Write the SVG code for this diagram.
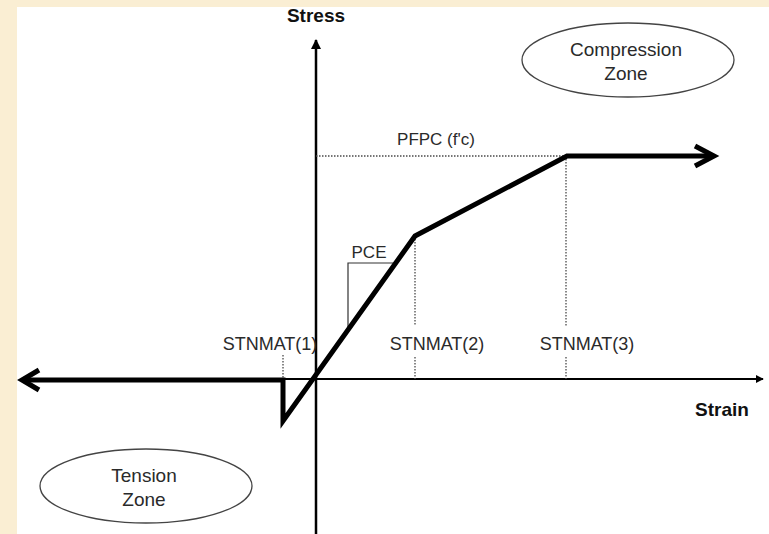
<svg xmlns="http://www.w3.org/2000/svg" width="769" height="534" viewBox="0 0 769 534">
<defs>
<style>
.lbl{font-family:"Liberation Sans",Arial,sans-serif;font-size:18px;fill:#2a2a2a}
.ttl{font-family:"Liberation Sans",Arial,sans-serif;font-size:19px;font-weight:bold;fill:#111}
.dot{stroke:#4a4a4a;stroke-width:1.3;stroke-dasharray:1.5 1.5;fill:none}
.thin{stroke:#333;stroke-width:1.2;fill:none}
.axis{stroke:#000;stroke-width:2.5;fill:none}
.curve{stroke:#000;stroke-width:5;fill:none;stroke-linejoin:miter}
.zone{stroke:#444;stroke-width:1.3;fill:none}
</style>
<marker id="tri" viewBox="0 0 10 10" refX="9" refY="5" markerWidth="4" markerHeight="4" orient="auto" markerUnits="strokeWidth">
<path d="M0,0 L10,5 L0,10 z" fill="#000"/>
</marker>
</defs>
<rect x="0" y="0" width="769" height="534" fill="#FAEED3"/>
<rect x="17" y="7" width="752" height="527" fill="#fff"/>

<g id="connectors">
<line class="axis" x1="316" y1="534" x2="316" y2="40" marker-end="url(#tri)"/>
<line class="axis" x1="283" y1="379" x2="763" y2="379" marker-end="url(#tri)" style="stroke-width:2"/>
<line class="dot" x1="316" y1="156" x2="566" y2="156"/>
<line class="dot" x1="566" y1="156" x2="566" y2="326"/>
<line class="dot" x1="566" y1="357" x2="566" y2="379"/>
<line class="dot" x1="415" y1="236" x2="415" y2="326"/>
<line class="dot" x1="415" y1="357" x2="415" y2="379"/>
<line class="dot" x1="283" y1="355" x2="283" y2="379"/>
<polyline class="thin" points="348,328 348,263 393,263"/>
<polyline class="curve" points="22,380 283,380 283,421 415,236 567,156 711,156"/>
<polyline class="curve" points="39,370 22,380 39,390"/>
<polyline class="curve" points="695,146 714,156 695,166"/>
</g>

<g id="stress-label"><text class="ttl" x="316" y="22" text-anchor="middle">Stress</text></g>
<g id="strain-label"><text class="ttl" x="722" y="416" text-anchor="middle">Strain</text></g>
<g id="compression-zone">
<ellipse class="zone" cx="628" cy="60" rx="106" ry="37"/>
<text class="lbl" x="626" y="56" text-anchor="middle" style="font-size:19px">Compression</text>
<text class="lbl" x="626" y="80" text-anchor="middle" style="font-size:19px">Zone</text>
</g>
<g id="tension-zone">
<ellipse class="zone" cx="146" cy="486" rx="106" ry="37"/>
<text class="lbl" x="144" y="482" text-anchor="middle" style="font-size:19px">Tension</text>
<text class="lbl" x="144" y="506" text-anchor="middle" style="font-size:19px">Zone</text>
</g>
<g id="stnmat1"><text class="lbl" x="270" y="350" text-anchor="middle">STNMAT(1)</text></g>
<g id="stnmat2"><text class="lbl" x="437" y="350" text-anchor="middle">STNMAT(2)</text></g>
<g id="stnmat3"><text class="lbl" x="587" y="350" text-anchor="middle">STNMAT(3)</text></g>
<g id="pfpc"><text class="lbl" x="436" y="145" text-anchor="middle" style="font-size:17px">PFPC (f'c)</text></g>
<g id="pce"><text class="lbl" x="369" y="258" text-anchor="middle" style="font-size:17px">PCE</text></g>
</svg>
